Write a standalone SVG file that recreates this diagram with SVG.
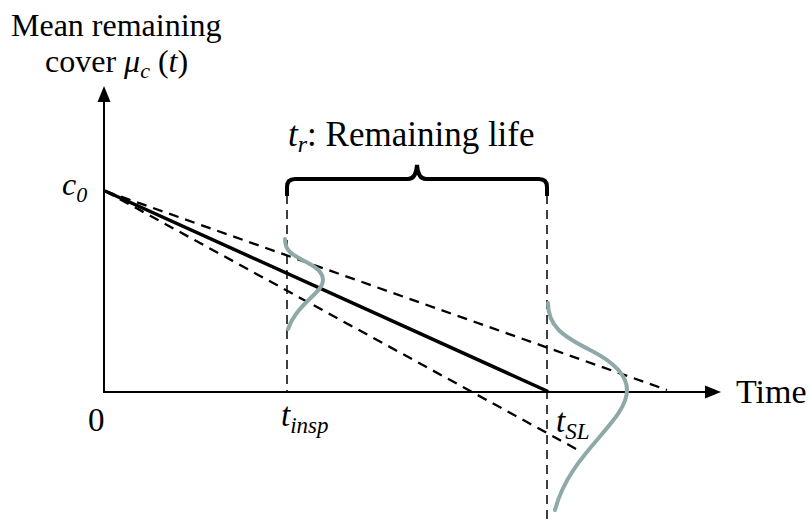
<svg xmlns="http://www.w3.org/2000/svg" width="810" height="519" viewBox="0 0 810 519">
<style>
text{fill:#000}
.it{font-style:italic}
.ax{stroke:#000;stroke-width:2;fill:none}
.dash{stroke:#000;stroke-width:2.3;stroke-dasharray:10,7;fill:none}
.vd{stroke:#000;stroke-width:1.5;stroke-dasharray:9,6;fill:none}
.pdf{stroke:#8fa9a8;stroke-width:4;fill:none;stroke-linecap:round}
</style>
<rect width="810" height="519" fill="#fff"/>
<g id="axes">
<line class="ax" x1="104" y1="392" x2="104" y2="100"/>
<polygon points="104,86 97.5,102 110.5,102" fill="#000"/>
<line class="ax" x1="103" y1="392" x2="706" y2="392"/>
<polygon points="721,392 705,385.5 705,398.5" fill="#000"/>
</g>
<g id="connectors">
<line class="dash" x1="105" y1="191" x2="667" y2="390"/>
<line class="dash" x1="105" y1="191" x2="578" y2="450"/>
<line x1="105" y1="191" x2="547" y2="391" stroke="#000" stroke-width="3.5" stroke-linecap="round"/>
<line class="vd" x1="287" y1="195" x2="287" y2="392"/>
<line class="vd" x1="547" y1="195" x2="547" y2="519"/>
<path d="M287,196 L287,187 Q287,179 295,179 L408,179 Q416,179 417,165 Q418,179 426,179 L539,179 Q547,179 547,187 L547,196" stroke="#000" stroke-width="4" fill="none"/>
</g>
<g id="dist-insp">
<path class="pdf" d="M285,239 C285,252 293,255 308,263 C318,268 323,273 323,280 C323,293 298,302 288,329"/>
</g>
<g id="dist-sl">
<path class="pdf" d="M548,303 C548,326 562,336 592,351 C615,363 627,376 627,390 C627,422 570,452 555,510"/>
</g>
<g id="labels" font-family="Liberation Serif, Tinos, Times New Roman, DejaVu Serif, serif">
<text x="11" y="36" font-size="32">Mean remaining</text>
<text x="45" y="72" font-size="32">cover <tspan class="it">μ</tspan><tspan class="it" font-size="22" dy="6">c</tspan><tspan dy="-6"> (</tspan><tspan class="it">t</tspan>)</text>
<text x="62" y="195" font-size="32" class="it">c<tspan font-size="22" dy="7">0</tspan></text>
<text x="288" y="146" font-size="35"><tspan class="it">t</tspan><tspan class="it" font-size="24" dy="6">r</tspan><tspan dy="-6">: Remaining life</tspan></text>
<text x="88" y="431" font-size="33">0</text>
<text x="281" y="426" font-size="33" class="it">t<tspan font-size="23" dy="7">insp</tspan></text>
<text x="556" y="432" font-size="33" class="it">t<tspan font-size="23" dy="7">SL</tspan></text>
<text x="736" y="403" font-size="34">Time</text>
</g>
</svg>
